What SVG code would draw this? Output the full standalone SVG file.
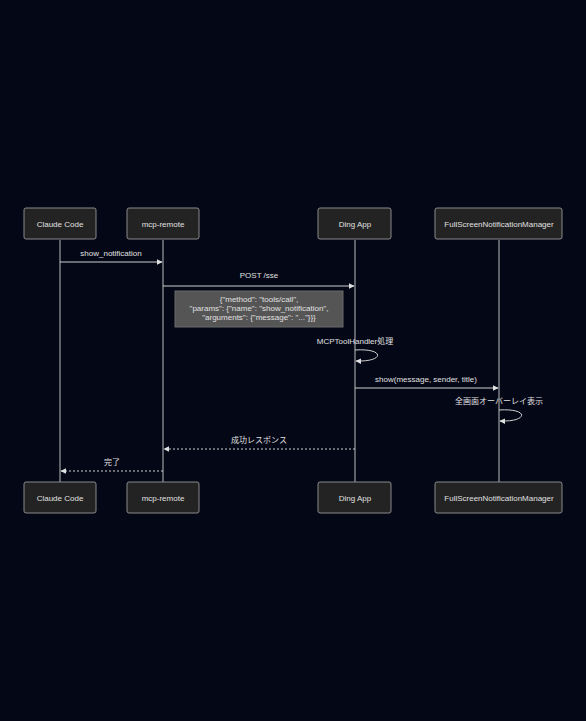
<svg xmlns="http://www.w3.org/2000/svg" width="586" height="721" viewBox="0 0 586 721">
<defs>
<style>
text{font-family:"Liberation Sans","Noto Sans CJK JP",sans-serif;font-size:8px;fill:#e0e0e0;text-anchor:middle}
.box{fill:#232323;stroke:#8a8a8a;stroke-width:1}
.life{stroke:#bdbdbd;stroke-width:1}
.msg{stroke:#d0d0d0;stroke-width:1;fill:none}
.dash{stroke-dasharray:2,2}
.note{fill:#555555;stroke:#6a6a6a}
</style>
<marker id="ah" viewBox="0 0 10 10" refX="9" refY="5" markerWidth="6" markerHeight="6" orient="auto-start-reverse"><path d="M0,0L10,5L0,10z" fill="#e0e0e0"/></marker>
</defs>
<rect width="586" height="721" fill="#030716"/>
<g id="lifelines">
<line class="life" x1="60" y1="240" x2="60" y2="482"/>
<line class="life" x1="163" y1="240" x2="163" y2="482"/>
<line class="life" x1="355" y1="240" x2="355" y2="482"/>
<line class="life" x1="499" y1="240" x2="499" y2="482"/>
</g>
<g id="claude-top"><rect class="box" x="24" y="208" width="72" height="31" rx="2"/><text x="60" y="226.5">Claude Code</text></g>
<g id="mcp-top"><rect class="box" x="127" y="208" width="72" height="31" rx="2"/><text x="163" y="226.5">mcp-remote</text></g>
<g id="ding-top"><rect class="box" x="318" y="208" width="73" height="31" rx="2"/><text x="355" y="226.5">Ding App</text></g>
<g id="fsnm-top"><rect class="box" x="435" y="208" width="127" height="31" rx="2"/><text x="499" y="226.5">FullScreenNotificationManager</text></g>
<g id="claude-bottom"><rect class="box" x="24" y="482" width="72" height="31" rx="2"/><text x="60" y="500.5">Claude Code</text></g>
<g id="mcp-bottom"><rect class="box" x="127" y="482" width="72" height="31" rx="2"/><text x="163" y="500.5">mcp-remote</text></g>
<g id="ding-bottom"><rect class="box" x="318" y="482" width="73" height="31" rx="2"/><text x="355" y="500.5">Ding App</text></g>
<g id="fsnm-bottom"><rect class="box" x="435" y="482" width="127" height="31" rx="2"/><text x="499" y="500.5">FullScreenNotificationManager</text></g>
<g id="note">
<rect class="note" x="175" y="291" width="168" height="36"/>
<text x="259" y="302">{"method": "tools/call",</text>
<text x="259" y="311">"params": {"name": "show_notification",</text>
<text x="259" y="320">"arguments": {"message": "..."}}}</text>
</g>
<g id="connectors">
<line class="msg" x1="60" y1="262" x2="162" y2="262" marker-end="url(#ah)"/>
<text x="111" y="256">show_notification</text>
<line class="msg" x1="163" y1="286" x2="354" y2="286" marker-end="url(#ah)"/>
<text x="259" y="278">POST /sse</text>
<path class="msg" d="M355,350 C385,348 385,362 356,361" marker-end="url(#ah)"/>
<text x="355" y="344">MCPToolHandler処理</text>
<line class="msg" x1="355" y1="388" x2="498" y2="388" marker-end="url(#ah)"/>
<text x="426" y="382">show(message, sender, title)</text>
<path class="msg" d="M499,410 C529,408 529,422 500,421" marker-end="url(#ah)"/>
<text x="499" y="404">全画面オーバーレイ表示</text>
<line class="msg dash" x1="355" y1="449" x2="164" y2="449" marker-end="url(#ah)"/>
<text x="259" y="443">成功レスポンス</text>
<line class="msg dash" x1="163" y1="471" x2="61" y2="471" marker-end="url(#ah)"/>
<text x="112" y="465">完了</text>
</g>
</svg>
